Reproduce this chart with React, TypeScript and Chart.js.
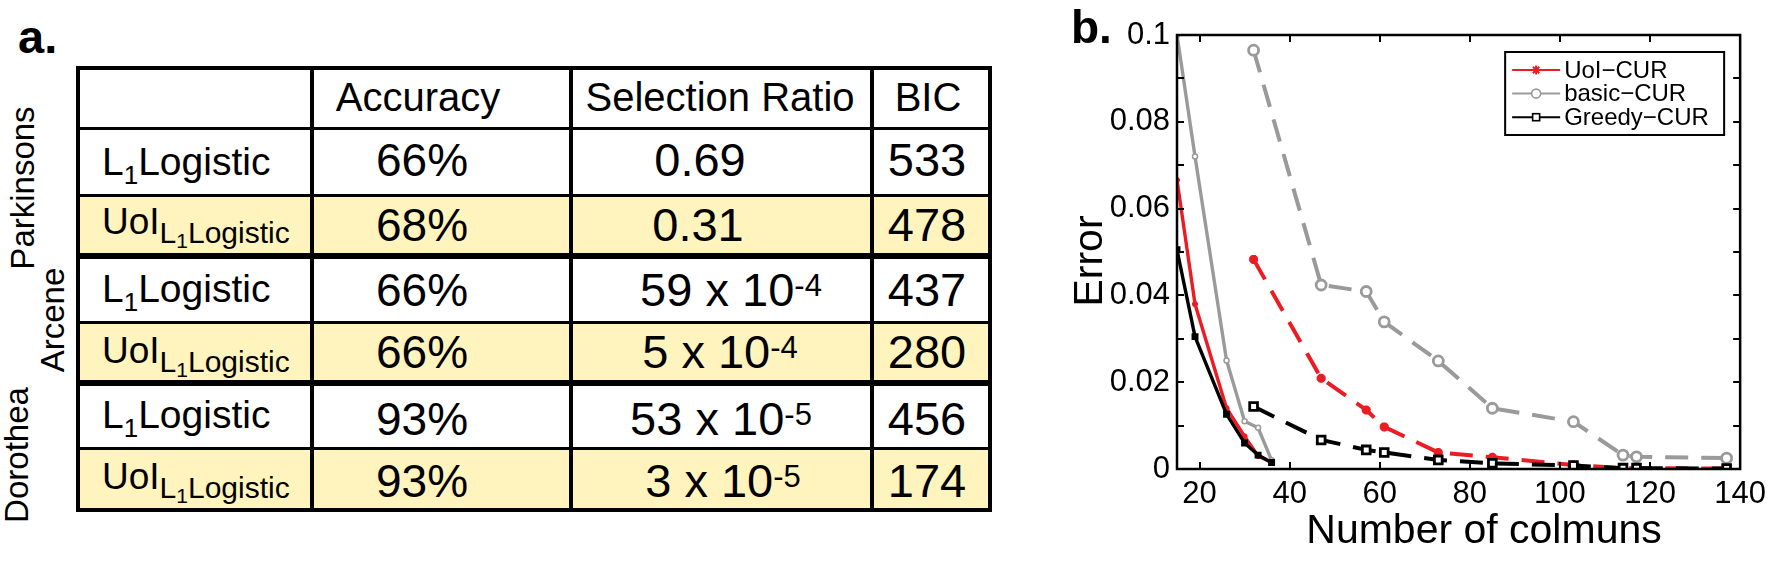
import React, { useEffect, useRef } from 'react';
import { Chart, registerables } from 'chart.js';

Chart.register(...registerables);

const FONT = '"Liberation Sans", Arial, Helvetica, sans-serif';

// ---------- Panel a: table data ----------
const datasetNames = ['Parkinsons', 'Arcene', 'Dorothea'];
const columnHeaders = ['Accuracy', 'Selection Ratio', 'BIC'];
const methodKinds = ['L1', 'UoI', 'L1', 'UoI', 'L1', 'UoI'];
const accuracyValues = ['66%', '68%', '66%', '66%', '93%', '93%'];
const selectionBase = ['0.69', '0.31', '59 x 10', '5 x 10', '53 x 10', '3 x 10'];
const selectionExp = ['', '', '-4', '-4', '-5', '-5'];
const bicValues = ['533', '478', '437', '280', '456', '174'];

// ---------- Panel b: chart data ----------
const seriesNames = ['UoI\u2212CUR', 'basic\u2212CUR', 'Greedy\u2212CUR'];
const solidColumns = [15, 19, 26, 30, 33, 36];
const uoiSolid = [0.0666, 0.038, 0.014, 0.0075, 0.003, 0.0015];
const basicSolid = [0.1, 0.072, 0.025, 0.011, 0.0095, 0.002];
const greedySolid = [0.0505, 0.0305, 0.0126, 0.006, 0.0032, 0.0015];
const dashedColumns = [32, 47, 57, 61, 73, 85, 103, 114, 117, 137];
const uoiDashed = [0.0483, 0.0209, 0.0136, 0.0097, 0.0038, 0.0027, 0.0009, 0.0002, 0.0002, 0.0001];
const basicDashed = [0.0965, 0.0424, 0.0409, 0.0339, 0.0249, 0.014, 0.0109, 0.0032, 0.0028, 0.0025];
const greedyDashed = [0.0144, 0.0067, 0.0044, 0.0038, 0.0021, 0.0013, 0.0008, 0.0002, 0.0002, 0.0001];
const xTickValues = [20, 40, 60, 80, 100, 120, 140];
const yTickValues = [0, 0.02, 0.04, 0.06, 0.08, 0.1];
const yTickLabels = ['0', '0.02', '0.04', '0.06', '0.08', '0.1'];
const yMinorTicks = [0, 0.01, 0.02, 0.03, 0.04, 0.05, 0.06, 0.07, 0.08, 0.09, 0.1];
const xAxisTitle = 'Number of colmuns';
const yAxisTitle = 'Error';

const RED = '#ec1c24';
const GRAY = '#9a9a9a';
const BLACK = '#000000';
const YELLOW = '#fff4bd';

const pts = (xs: number[], ys: number[]) => xs.map((x, i) => ({ x, y: ys[i] }));

function TextAt(props: any) {
  const { x, baseline, size, align, weight, children } = props;
  const style: any = {
    position: 'absolute',
    left: x,
    top: baseline - 0.8465 * size,
    fontSize: size,
    lineHeight: 1,
    whiteSpace: 'nowrap',
    fontWeight: weight || 'normal',
    color: '#000',
  };
  if (align === 'center') style.transform = 'translateX(-50%)';
  return <div style={style}>{children}</div>;
}

function MethodLabel({ kind }: { kind: string }) {
  if (kind === 'L1') {
    return (
      <span style={{ fontSize: 39 }}>
        L<span style={{ fontSize: 26, position: 'relative', top: 9 }}>1</span>Logistic
      </span>
    );
  }
  return (
    <span style={{ fontSize: 37 }}>
      UoI
      <span style={{ fontSize: 30, position: 'relative', top: 9 }}>
        L<span style={{ fontSize: 21, position: 'relative', top: 5 }}>1</span>Logistic
      </span>
    </span>
  );
}

function TablePanel() {
  const colX = [78, 312, 571, 872, 990];
  const rowY = [68, 128, 195, 256, 322, 383, 448, 510];
  const hLine = [4, 3, 3, 6, 3, 6, 3, 4];
  const vLine = [4, 4, 4, 4, 4];
  const cells: any[] = [];
  for (let r = 0; r < 7; r++) {
    for (let c = 0; c < 4; c++) {
      const left = colX[c] + vLine[c] / 2;
      const right = colX[c + 1] - vLine[c + 1] / 2;
      const top = rowY[r] + hLine[r] / 2;
      const bottom = rowY[r + 1] - hLine[r + 1] / 2;
      const bg = r > 0 && r % 2 === 0 ? YELLOW : '#ffffff';
      cells.push(
        <div
          key={`c${r}-${c}`}
          style={{ position: 'absolute', left, top, width: right - left, height: bottom - top, background: bg }}
        />
      );
    }
  }
  const headerCenters = [418, 720, 928];
  const methodBaselines = [175, 234, 302, 363, 428, 489];
  const valueBaselines = [176, 241, 306, 368, 435, 497];
  const selCenters = [700, 698, 731, 720, 721, 723];
  const labelPos = [
    { cx: 22, cy: 188 },
    { cx: 52, cy: 320 },
    { cx: 16, cy: 455 },
  ];
  return (
    <div style={{ position: 'absolute', left: 0, top: 0, width: 1060, height: 563 }}>
      <TextAt x={18} baseline={53} size={47} weight="bold">a.</TextAt>
      <div
        style={{
          position: 'absolute',
          left: colX[0] - 2,
          top: rowY[0] - 2,
          width: colX[4] - colX[0] + 4,
          height: rowY[7] - rowY[0] + 4,
          background: '#000',
        }}
      />
      {cells}
      {columnHeaders.map((h, i) => (
        <TextAt key={h} x={headerCenters[i]} baseline={111} size={40} align="center">
          {h}
        </TextAt>
      ))}
      {methodKinds.map((k, i) => (
        <TextAt key={`m${i}`} x={102} baseline={methodBaselines[i]} size={39}>
          <MethodLabel kind={k} />
        </TextAt>
      ))}
      {accuracyValues.map((v, i) => (
        <TextAt key={`a${i}`} x={422} baseline={valueBaselines[i]} size={46} align="center">
          {v}
        </TextAt>
      ))}
      {selectionBase.map((v, i) => (
        <TextAt key={`s${i}`} x={selCenters[i]} baseline={valueBaselines[i]} size={47} align="center">
          {v}
          {selectionExp[i] ? (
            <span style={{ fontSize: 31, position: 'relative', top: -10 }}>{selectionExp[i]}</span>
          ) : null}
        </TextAt>
      ))}
      {bicValues.map((v, i) => (
        <TextAt key={`b${i}`} x={927} baseline={valueBaselines[i]} size={47} align="center">
          {v}
        </TextAt>
      ))}
      {datasetNames.map((n, i) => (
        <div
          key={n}
          style={{
            position: 'absolute',
            left: labelPos[i].cx,
            top: labelPos[i].cy,
            fontSize: 33,
            lineHeight: 1,
            whiteSpace: 'nowrap',
            transform: 'translate(-50%, -50%) rotate(-90deg)',
            color: '#000',
          }}
        >
          {n}
        </div>
      ))}
    </div>
  );
}

function drawMarker(ctx: CanvasRenderingContext2D, kind: string, x: number, y: number, color: string) {
  ctx.save();
  ctx.strokeStyle = color;
  ctx.lineWidth = 1.6;
  ctx.setLineDash([]);
  if (kind === 'star') {
    const r = 4.5;
    ctx.beginPath();
    for (let k = 0; k < 4; k++) {
      const a = (k * Math.PI) / 4;
      ctx.moveTo(x - r * Math.cos(a), y - r * Math.sin(a));
      ctx.lineTo(x + r * Math.cos(a), y + r * Math.sin(a));
    }
    ctx.lineWidth = 2;
    ctx.stroke();
  } else if (kind === 'circle') {
    ctx.fillStyle = '#fff';
    ctx.beginPath();
    ctx.arc(x, y, 4.5, 0, Math.PI * 2);
    ctx.fill();
    ctx.stroke();
  } else {
    ctx.fillStyle = '#fff';
    ctx.fillRect(x - 3.5, y - 3.5, 7, 7);
    ctx.strokeRect(x - 3.5, y - 3.5, 7, 7);
  }
  ctx.restore();
}

const decorPlugin = {
  id: 'decor',
  afterDatasetsDraw(chart: any) {
    const { ctx, chartArea: a, scales } = chart;
    const xs = scales.x;
    const ys = scales.y;
    ctx.save();
    ctx.setLineDash([]);
    ctx.strokeStyle = '#000';
    ctx.lineWidth = 2.5;
    ctx.strokeRect(a.left, a.top, a.right - a.left, a.bottom - a.top);
    ctx.lineWidth = 2;
    const tl = 7;
    ctx.beginPath();
    for (const v of xTickValues) {
      const px = Math.round(xs.getPixelForValue(v));
      ctx.moveTo(px, a.bottom);
      ctx.lineTo(px, a.bottom - tl);
      ctx.moveTo(px, a.top);
      ctx.lineTo(px, a.top + tl);
    }
    for (const v of yMinorTicks) {
      const py = Math.round(ys.getPixelForValue(v));
      ctx.moveTo(a.left, py);
      ctx.lineTo(a.left + tl, py);
      ctx.moveTo(a.right, py);
      ctx.lineTo(a.right - tl, py);
    }
    ctx.stroke();

    // legend
    const bw = 219;
    const bh = 83;
    const bx = a.right - 16 - bw;
    const by = a.top + 17;
    ctx.fillStyle = '#fff';
    ctx.fillRect(bx, by, bw, bh);
    ctx.lineWidth = 2;
    ctx.strokeStyle = '#000';
    ctx.strokeRect(bx, by, bw, bh);
    const colors = [RED, GRAY, BLACK];
    const markers = ['star', 'circle', 'rect'];
    ctx.font = `24px ${FONT}`;
    ctx.textBaseline = 'middle';
    ctx.textAlign = 'left';
    for (let i = 0; i < 3; i++) {
      const ly = by + 18 + i * 23.6;
      ctx.strokeStyle = colors[i];
      ctx.lineWidth = 2;
      ctx.beginPath();
      ctx.moveTo(bx + 7, ly);
      ctx.lineTo(bx + 55, ly);
      ctx.stroke();
      drawMarker(ctx, markers[i], bx + 31, ly, colors[i]);
      ctx.fillStyle = '#000';
      ctx.fillText(seriesNames[i], bx + 59, ly + 1);
    }

    // axis titles and panel label
    ctx.fillStyle = '#000';
    ctx.textBaseline = 'alphabetic';
    ctx.textAlign = 'center';
    ctx.font = `41px ${FONT}`;
    ctx.fillText(xAxisTitle, 424, 543);
    ctx.save();
    ctx.translate(42, 261);
    ctx.rotate(-Math.PI / 2);
    ctx.fillText(yAxisTitle, 0, 0);
    ctx.restore();
    ctx.textAlign = 'left';
    ctx.font = `bold 46px ${FONT}`;
    ctx.fillText('b.', 11, 43);
    ctx.restore();
  },
};

function ChartPanel() {
  const ref = useRef<HTMLCanvasElement>(null);
  useEffect(() => {
    const mk = (
      label: string,
      xs: number[],
      ys: number[],
      color: string,
      style: string,
      dashed: boolean,
      radius: number,
      bg: string,
      pbw: number
    ) => ({
      label,
      data: pts(xs, ys),
      showLine: true,
      borderColor: color,
      backgroundColor: bg,
      borderWidth: dashed ? 4 : 3.4,
      borderDash: dashed ? [23, 13] : [],
      pointStyle: style,
      pointRadius: radius,
      pointBorderColor: color,
      pointBackgroundColor: bg,
      pointBorderWidth: pbw,
      tension: 0,
    });
    const datasets = [
      mk(seriesNames[2], solidColumns, greedySolid, BLACK, 'rect', false, 3.5, BLACK, 2),
      mk(seriesNames[2], dashedColumns, greedyDashed, BLACK, 'rect', true, 5.5, '#ffffff', 2.8),
      mk(seriesNames[0], solidColumns, uoiSolid, RED, 'star', false, 3, RED, 2),
      mk(seriesNames[0], dashedColumns, uoiDashed, RED, 'star', true, 4.5, RED, 3.2),
      mk(seriesNames[1], solidColumns, basicSolid, GRAY, 'circle', false, 2.5, '#ffffff', 1.5),
      mk(seriesNames[1], dashedColumns, basicDashed, GRAY, 'circle', true, 5, '#ffffff', 2.8),
    ];
    const chart = new Chart(ref.current as HTMLCanvasElement, {
      type: 'scatter',
      data: { datasets: datasets as any },
      options: {
        responsive: false,
        animation: false,
        devicePixelRatio: 1,
        layout: { padding: { top: 35, right: 26, left: 0, bottom: 0 } },
        plugins: {
          legend: { display: false },
          tooltip: { enabled: false },
          title: { display: false },
        },
        scales: {
          x: {
            type: 'linear',
            position: 'bottom',
            min: 15,
            max: 140,
            afterBuildTicks: (s: any) => {
              s.ticks = xTickValues.map((v) => ({ value: v }));
            },
            afterFit: (s: any) => {
              s.height = 94;
            },
            grid: { display: false, drawTicks: false },
            border: { display: false },
            ticks: {
              color: '#000',
              font: { size: 31, family: FONT },
              padding: 7,
              maxRotation: 0,
              autoSkip: false,
              callback: (v: any) => String(v),
            },
          },
          y: {
            type: 'linear',
            min: 0,
            max: 0.1,
            afterBuildTicks: (s: any) => {
              s.ticks = yTickValues.map((v) => ({ value: v }));
            },
            afterFit: (s: any) => {
              s.width = 117;
            },
            grid: { display: false, drawTicks: false },
            border: { display: false },
            ticks: {
              color: '#000',
              font: { size: 31, family: FONT },
              padding: 7,
              autoSkip: false,
              callback: (_v: any, i: number) => yTickLabels[i],
            },
          },
        },
      } as any,
      plugins: [decorPlugin],
    });
    return () => chart.destroy();
  }, []);
  return (
    <canvas
      ref={ref}
      width={713}
      height={563}
      style={{ position: 'absolute', left: 1060, top: 0, width: 713, height: 563, display: 'block' }}
    />
  );
}

export default function App() {
  return (
    <div
      style={{
        position: 'absolute',
        left: 0,
        top: 0,
        width: 1773,
        height: 563,
        background: '#ffffff',
        overflow: 'hidden',
        fontFamily: FONT,
      }}
    >
      <TablePanel />
      <ChartPanel />
    </div>
  );
}
